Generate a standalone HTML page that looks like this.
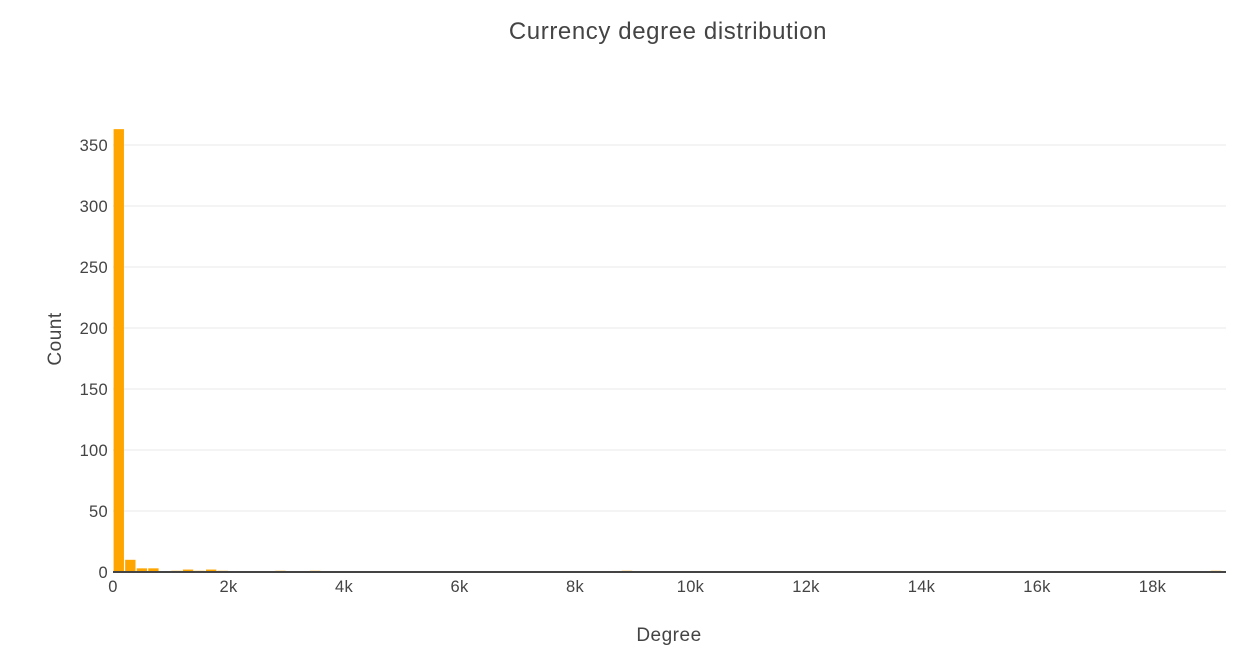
<!DOCTYPE html>
<html><head><meta charset="utf-8"><style>
body{margin:0;background:#fff;font-family:"Liberation Sans",sans-serif;}
</style></head><body>
<svg width="1236" height="651" xmlns="http://www.w3.org/2000/svg">
<text x="668" y="39" text-anchor="middle" font-size="24" letter-spacing="0.6" fill="#444">Currency degree distribution</text>
<g id="grid"></g>
<g id="bars"></g>
<line x1="113" y1="572" x2="1226" y2="572" stroke="#444" stroke-width="2"/>
<g id="xt"></g>
<g id="yt"></g>
<text x="669" y="641" text-anchor="middle" font-size="19" letter-spacing="0.5" fill="#444">Degree</text>
<text transform="translate(61,339) rotate(-90)" text-anchor="middle" font-size="19" letter-spacing="0.5" fill="#444">Count</text>
</svg>
<script>
const binStarts=[0,200,400,600,1000,1200,1400,1600,1800,2800,3400,8800,19000];
const counts=[363,10,3,3,1,2,1,2,1,1,1,1,1];
const binWidth=200;
const xTicks=[0,2000,4000,6000,8000,10000,12000,14000,16000,18000];
const xTickLabels=["0","2k","4k","6k","8k","10k","12k","14k","16k","18k"];
const yTicks=[0,50,100,150,200,250,300,350];
const NS="http://www.w3.org/2000/svg";
const X=v=>113+v*0.05775;
const Y=v=>572-v*1.22;
const grid=document.getElementById('grid'),bars=document.getElementById('bars'),xt=document.getElementById('xt'),yt=document.getElementById('yt');
yTicks.forEach(t=>{
 if(t>0){const l=document.createElementNS(NS,'line');
 l.setAttribute('x1',113);l.setAttribute('x2',1226);l.setAttribute('y1',Y(t));l.setAttribute('y2',Y(t));
 l.setAttribute('stroke','#e8e8e8');l.setAttribute('stroke-width',1);
 
 
 grid.appendChild(l);}
 const tx=document.createElementNS(NS,'text');
 tx.setAttribute('x',108);tx.setAttribute('y',Y(t)+6);tx.setAttribute('text-anchor','end');
 tx.setAttribute('font-size',16.5);tx.setAttribute('letter-spacing',0.3);tx.setAttribute('fill','#444');tx.textContent=t;
 
 
 yt.appendChild(tx);
});
xTicks.forEach((t,i)=>{
 const tx=document.createElementNS(NS,'text');
 tx.setAttribute('x',X(t));tx.setAttribute('y',592);tx.setAttribute('text-anchor','middle');
 tx.setAttribute('font-size',16.5);tx.setAttribute('letter-spacing',0.3);tx.setAttribute('fill','#444');tx.textContent=xTickLabels[i];
 
 
 xt.appendChild(tx);
});
binStarts.forEach((b,i)=>{
 const r=document.createElementNS(NS,'rect');
 const x0=X(b),x1=X(b+binWidth);
 r.setAttribute('x',x0+0.6);r.setAttribute('width',Math.max(x1-x0-1.2,1));
 r.setAttribute('y',Y(counts[i]));r.setAttribute('height',572-Y(counts[i]));
 r.setAttribute('fill','#FFA500');
 
 
 bars.appendChild(r);
});
</script>
</body></html>
